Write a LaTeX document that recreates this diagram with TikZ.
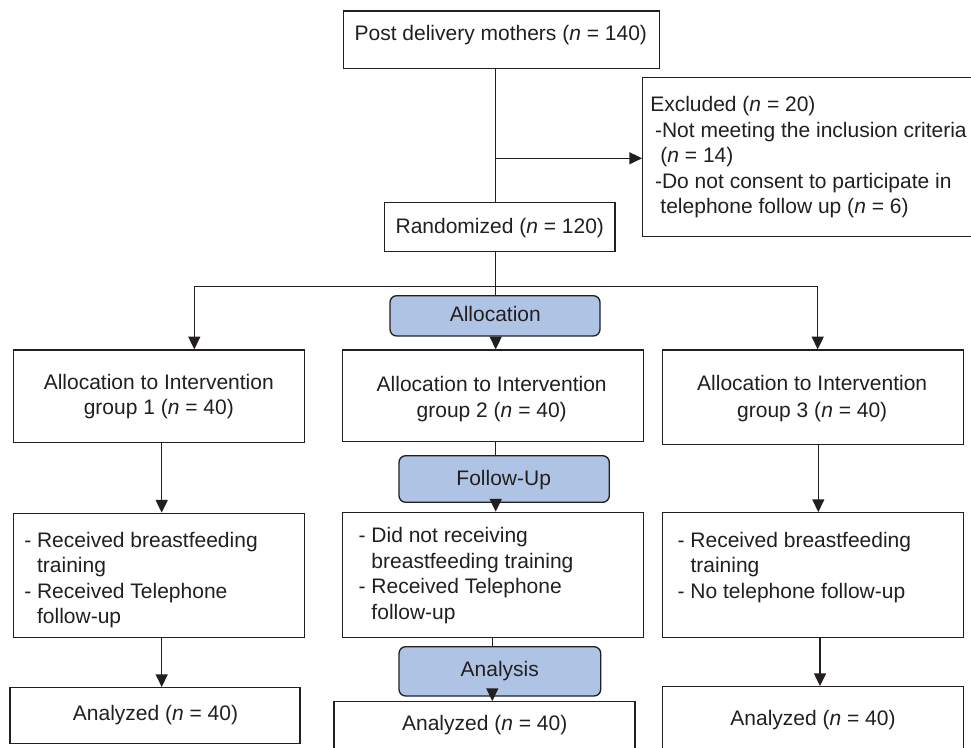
\documentclass[tikz,border=0pt]{standalone}
\usepackage{fontspec}
\setmainfont{Liberation Sans}
\usetikzlibrary{arrows.meta,fit}
\definecolor{phase}{RGB}{175,196,228}
\definecolor{ink}{RGB}{35,31,32}
\begin{document}
\begin{tikzpicture}[x=0.75pt,y=-0.75pt,
  box/.style={draw=ink, line width=1pt, fill=white, inner sep=0pt},
  phasebox/.style={box, fill=phase, rounded corners=5pt},
  txt/.style={inner sep=0pt, text=ink, font=\fontsize{15.75}{19}\selectfont},
  conn/.style={draw=ink, line width=1pt},
  arr/.style={conn, -{Triangle[length=9.5pt,width=9pt]}}]
\clip (0,0) rectangle (971,748);
\fill[white] (0,0) rectangle (971,748);
% boxes
\node[box, fit={(343.3,11) (659.3,68.3)}] (top) {};
\node[box, fit={(642.7,77.3) (990,236.7)}] (excl) {};
\node[box, fit={(384.3,202.3) (615,251.7)}] (rand) {};
\node[phasebox, fit={(390,295.7) (600,336)}] (alloc) {};
\node[box, fit={(13.3,350) (304.3,442.3)}] (g1) {};
\node[box, fit={(342.3,350) (643.3,441.7)}] (g2) {};
\node[box, fit={(662.7,350) (963.3,444.3)}] (g3) {};
\node[phasebox, fit={(399,455.7) (609.3,502.3)}] (fup) {};
\node[box, fit={(13.3,513.3) (304.3,637.3)}] (g1b) {};
\node[box, fit={(342.3,512.3) (643.3,637.7)}] (g2b) {};
\node[box, fit={(662.7,512.7) (963.3,637.3)}] (g3b) {};
\node[phasebox, fit={(399,646.7) (600.7,696)}] (anl) {};
\node[box, fit={(10,687.7) (300,743.3)}] (a1) {};
\node[box, fit={(334,701.7) (635,770)}] (a2) {};
\node[box, fit={(662.7,686.7) (963.3,770)}] (a3) {};
% connectors
\coordinate (c1) at (495.7,158.3);
\coordinate (c2) at (495.7,286.7);
\coordinate (cl) at (194.3,286.7);
\coordinate (cr) at (817.7,286.7);
\coordinate (ml) at (161.7,0);
\coordinate (mm) at (492.3,0);
\coordinate (mr) at (818.3,0);
\coordinate (mr2) at (820,0);
\draw[conn] (top.south -| c1) -- (rand.north -| c1);
\draw[arr] (c1) -- (excl.west |- c1);
\draw[conn] (rand.south -| c2) -- (c2);
\draw[conn] (cl) -- (cr);
\draw[arr] (cl) -- (g1.north -| cl);
\draw[arr] (cr) -- (g3.north -| cr);
\draw[conn] (c2) -- (alloc.north -| c2);
\draw[arr] (alloc.south -| c2) -- (g2.north -| c2);
\draw[arr] (g1.south -| ml) -- (g1b.north -| ml);
\draw[arr] (g1b.south -| ml) -- (a1.north -| ml);
\draw[conn] (g2.south -| c2) -- (fup.north -| c2);
\draw[arr] (fup.south -| c2) -- (g2b.north -| c2);
\draw[conn] (g2b.south -| mm) -- (anl.north -| mm);
\draw[arr] (anl.south -| mm) -- (a2.north -| mm);
\draw[arr] (g3.south -| mr) -- (g3b.north -| mr);
\draw[arr] (g3b.south -| mr2) -- (a3.north -| mr2);
% texts
\node[txt, anchor=base] (ttop) at (500.8,40.7) {Post delivery mothers (\textit{n} = 140)};
\node[txt, anchor=base west] (te1) at (650,111.7) {Excluded (\textit{n} = 20)};
\node[txt, anchor=base west] (te2) at (654.8,137.2) {-Not meeting the inclusion criteria};
\node[txt, anchor=base west] (te3) at (660.2,162.7) {(\textit{n} = 14)};
\node[txt, anchor=base west] (te4) at (654.8,188.2) {-Do not consent to participate in};
\node[txt, anchor=base west] (te5) at (660.2,213.7) {telephone follow up (\textit{n} = 6)};
\node[txt, anchor=base] (trand) at (499.8,233.3) {Randomized (\textit{n} = 120)};
\node[txt, anchor=base] (talloc) at (495.3,321.7) {Allocation};
\node[txt, anchor=base] (tg1a) at (158.8,389.5) {Allocation to Intervention};
\node[txt, anchor=base] (tg1b) at (158.8,414.8) {group 1 (\textit{n} = 40)};
\node[txt, anchor=base] (tg2a) at (491.7,391.7) {Allocation to Intervention};
\node[txt, anchor=base] (tg2b) at (491.7,417.3) {group 2 (\textit{n} = 40)};
\node[txt, anchor=base] (tg3a) at (812.2,391) {Allocation to Intervention};
\node[txt, anchor=base] (tg3b) at (812.2,417) {group 3 (\textit{n} = 40)};
\node[txt, anchor=base] (tfup) at (503.7,485) {Follow-Up};
\node[txt, anchor=base west] (th1a) at (24,547.3) {- Received breastfeeding};
\node[txt, anchor=base west] (th1b) at (24,572.7) {\phantom{- }training};
\node[txt, anchor=base west] (th1c) at (24,598.3) {- Received Telephone};
\node[txt, anchor=base west] (th1d) at (24,623.5) {\phantom{- }follow-up};
\node[txt, anchor=base west] (th2a) at (358.4,542.7) {- Did not receiving};
\node[txt, anchor=base west] (th2b) at (358.4,568.2) {\phantom{- }breastfeeding training};
\node[txt, anchor=base west] (th2c) at (358.4,593.7) {- Received Telephone};
\node[txt, anchor=base west] (th2d) at (358.4,619.2) {\phantom{- }follow-up};
\node[txt, anchor=base west] (th3a) at (677.4,547.3) {- Received breastfeeding};
\node[txt, anchor=base west] (th3b) at (677.4,572.7) {\phantom{- }training};
\node[txt, anchor=base west] (th3c) at (677.4,598.3) {- No telephone follow-up};
\node[txt, anchor=base] (tanl) at (499.8,676.7) {Analysis};
\node[txt, anchor=base] (ta1) at (155.5,720.7) {Analyzed (\textit{n} = 40)};
\node[txt, anchor=base] (ta2) at (484.7,730) {Analyzed (\textit{n} = 40)};
\node[txt, anchor=base] (ta3) at (813,725) {Analyzed (\textit{n} = 40)};
\end{tikzpicture}
\end{document}
